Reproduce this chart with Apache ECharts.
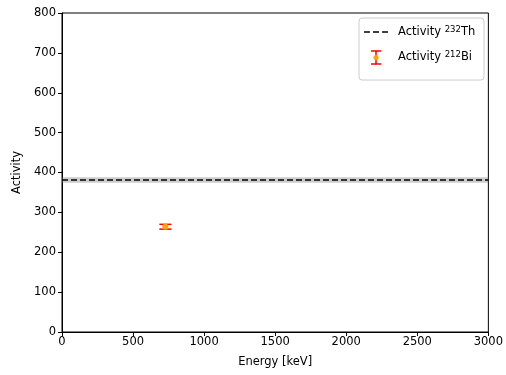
<!DOCTYPE html>
<html><head><meta charset="utf-8">
<script src="https://cdn.jsdelivr.net/npm/echarts@6/dist/echarts.min.js"></script>
<style>html,body{margin:0;padding:0;background:#fff}#c{width:506px;height:375px}</style>
</head><body><div id="c"></div>
<script>
// Data
const xRange = [0, 3000];
const yRange = [0, 800];
const th232Activity = 381;
const th232Err = 7;
const bi212Energy = [727];
const bi212Activity = [264];
const bi212Err = [6];
const legendLabels = ['Activity ', 'Activity '];
const legendSup = ['232', '212'];
const legendEl = ['Th', 'Bi'];

const chart = echarts.init(document.getElementById('c'), null, {renderer: 'canvas'});
const font = 'DejaVu Sans';
const fs = 11.5;
const txt = {fontFamily: font, fontSize: fs, color: '#000'};

const biData = bi212Energy.map((e, i) => [e, bi212Activity[i], bi212Err[i]]);

function richLabel(i) {
  return {
    type: 'text', left: 398, top: i === 0 ? 25 : 50,
    style: {
      text: legendLabels[i] + '{s|' + legendSup[i] + '}' + legendEl[i],
      fontFamily: font, fontSize: fs, fill: '#000',
      rich: {s: {fontFamily: font, fontSize: 8.5, verticalAlign: 'top', padding: [0, 0, 6, 0]}}
    }
  };
}

chart.setOption({
  animation: false,
  backgroundColor: '#fff',
  grid: {left: 62, right: 16, top: 13, bottom: 43, show: true, borderColor: '#000', borderWidth: 1, backgroundColor: 'transparent'},
  xAxis: {
    type: 'value', min: xRange[0], max: xRange[1], interval: 500,
    name: 'Energy [keV]', nameLocation: 'middle', nameGap: 24,
    nameTextStyle: txt,
    axisLine: {show: true, onZero: false, lineStyle: {color: '#000', width: 1}},
    axisTick: {show: true, inside: false, length: 4, lineStyle: {color: '#000'}},
    axisLabel: Object.assign({margin: 4, formatter: v => String(v)}, txt),
    splitLine: {show: false}
  },
  yAxis: {
    type: 'value', min: yRange[0], max: yRange[1], interval: 100,
    name: 'Activity', nameLocation: 'middle', nameGap: 36,
    nameTextStyle: txt,
    axisLine: {show: true, onZero: false, lineStyle: {color: '#000', width: 1}},
    axisTick: {show: true, inside: false, length: 4, lineStyle: {color: '#000'}},
    axisLabel: Object.assign({margin: 6, formatter: v => String(v)}, txt),
    splitLine: {show: false}
  },
  series: [
    {
      type: 'line', name: 'Th232',
      data: [[xRange[0], th232Activity], [xRange[1], th232Activity]],
      symbol: 'none', z: 3,
      lineStyle: {color: '#000', width: 1.5, type: [6, 3]},
      markArea: {
        silent: true,
        itemStyle: {color: 'rgba(128,128,128,0.4)'},
        data: [[{yAxis: th232Activity - th232Err}, {yAxis: th232Activity + th232Err}]]
      }
    },
    {
      type: 'custom', name: 'Bi212', data: biData, z: 4,
      renderItem: function (params, api) {
        const x = api.value(0), y = api.value(1), e = api.value(2);
        const c = api.coord([x, y]);
        const lo = api.coord([x, y - e]);
        const hi = api.coord([x, y + e]);
        const cap = 6;
        const st = {stroke: 'red', lineWidth: 1.5};
        return {type: 'group', children: [
          {type: 'line', shape: {x1: c[0], y1: lo[1], x2: c[0], y2: hi[1]}, style: st},
          {type: 'line', shape: {x1: c[0] - cap, y1: lo[1], x2: c[0] + cap, y2: lo[1]}, style: st},
          {type: 'line', shape: {x1: c[0] - cap, y1: hi[1], x2: c[0] + cap, y2: hi[1]}, style: st},
          {type: 'circle', shape: {cx: c[0], cy: c[1], r: 3}, style: {fill: 'orange'}}
        ]};
      }
    }
  ],
  graphic: [
    {type: 'rect', shape: {x: 359, y: 18, width: 125, height: 62, r: 3}, style: {fill: 'rgba(255,255,255,0.8)', stroke: '#ccc', lineWidth: 1}, z: 10},
    {type: 'line', shape: {x1: 364, y1: 32, x2: 388, y2: 32}, style: {stroke: '#000', lineWidth: 1.5, lineDash: [6, 3]}, z: 11},
    {type: 'line', shape: {x1: 376, y1: 51, x2: 376, y2: 64}, style: {stroke: 'red', lineWidth: 1.5}, z: 11},
    {type: 'line', shape: {x1: 371, y1: 51, x2: 381, y2: 51}, style: {stroke: 'red', lineWidth: 1.5}, z: 11},
    {type: 'line', shape: {x1: 371, y1: 64, x2: 381, y2: 64}, style: {stroke: 'red', lineWidth: 1.5}, z: 11},
    {type: 'circle', shape: {cx: 376, cy: 57.5, r: 2.5}, style: {fill: 'orange'}, z: 11},
    Object.assign(richLabel(0), {z: 11}),
    Object.assign(richLabel(1), {z: 11})
  ]
});
</script>
</body></html>
